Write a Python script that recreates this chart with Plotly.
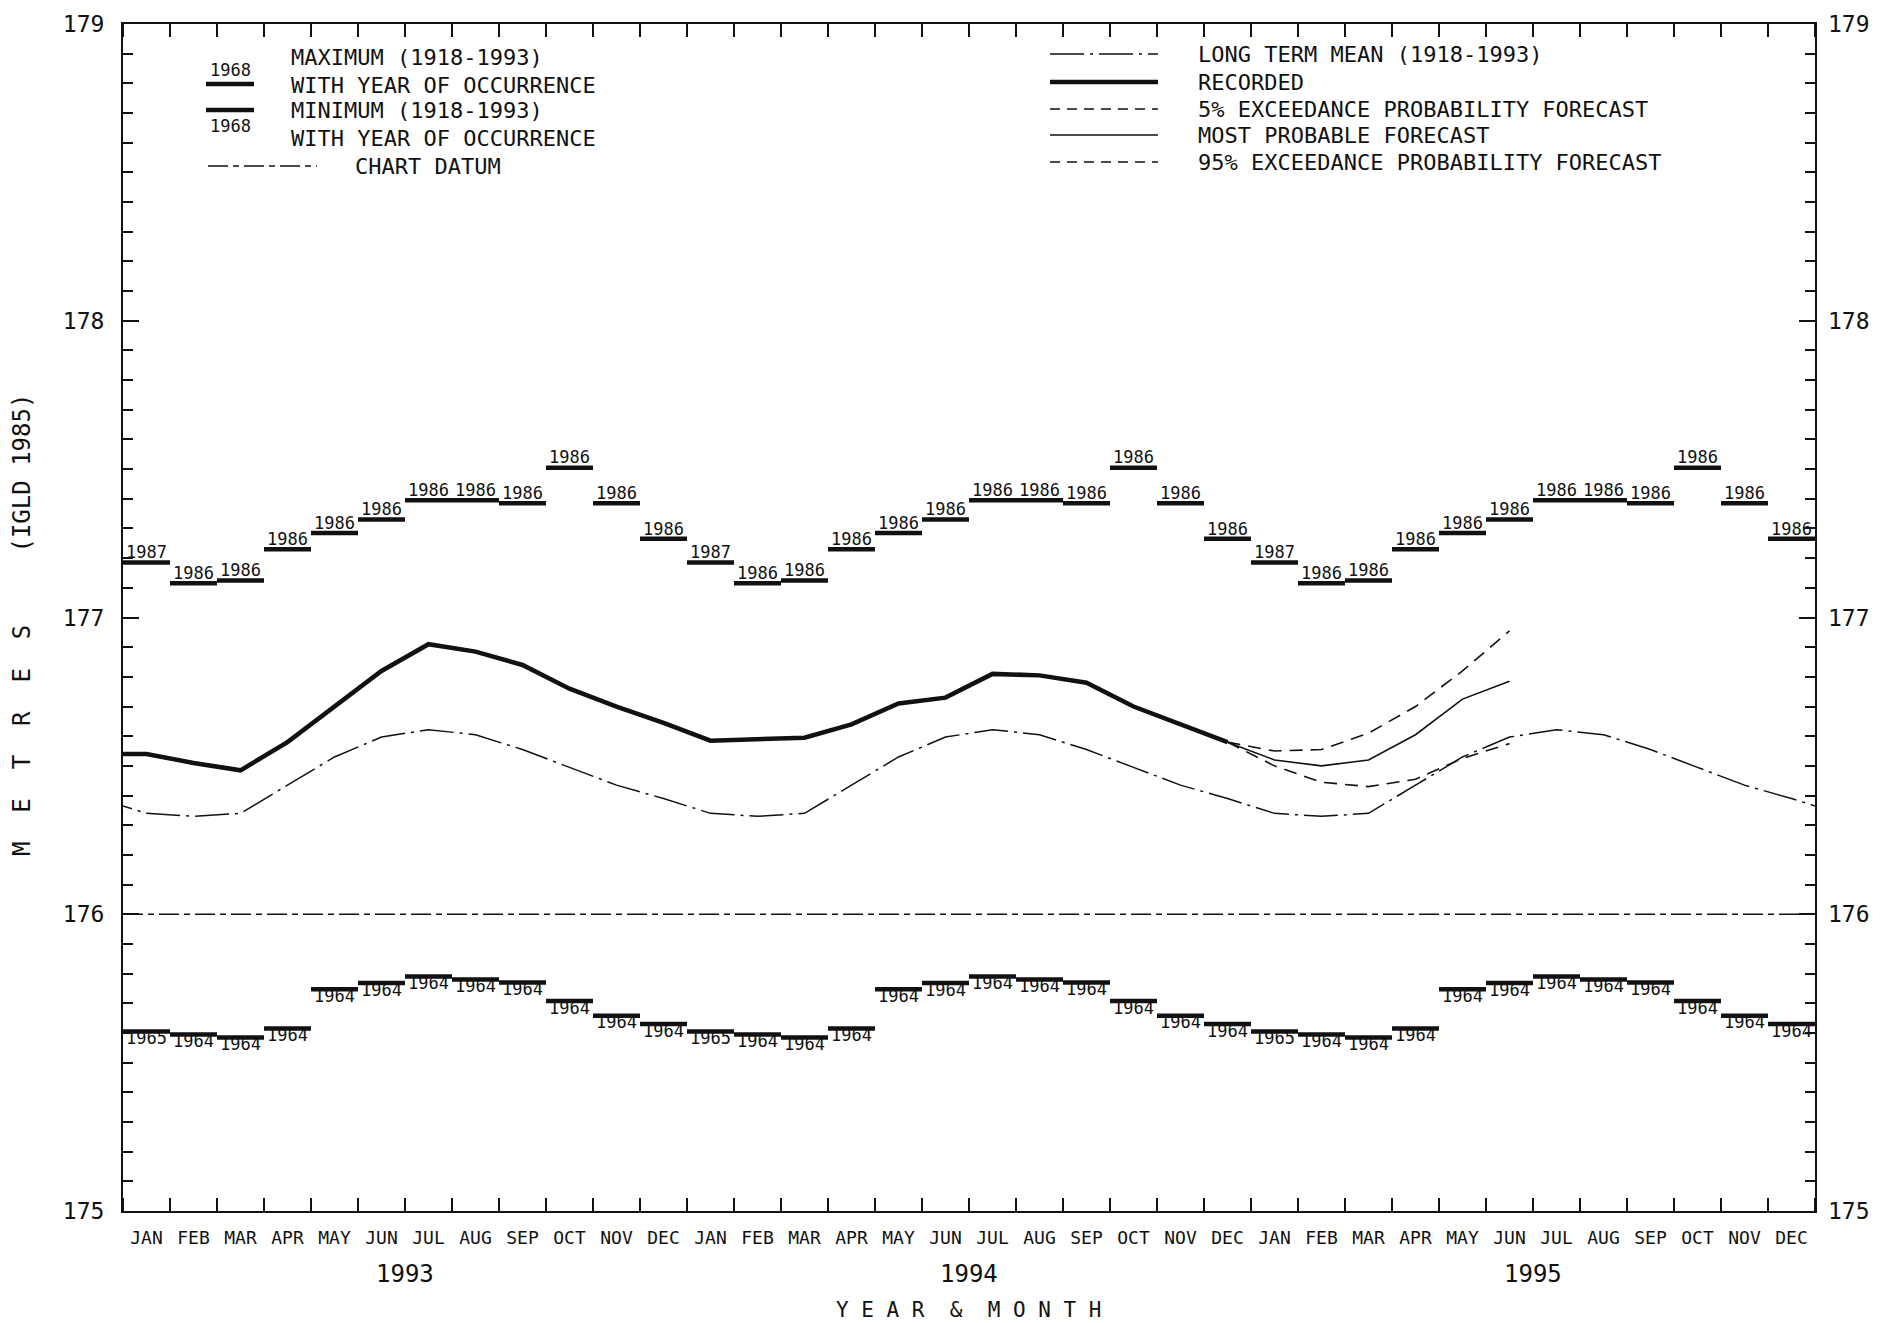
import plotly.graph_objects as go

# ---------------- data ----------------
months = ["JAN", "FEB", "MAR", "APR", "MAY", "JUN", "JUL", "AUG", "SEP", "OCT", "NOV", "DEC"]
years = ["1993", "1994", "1995"]

# Monthly maximum (1918-1993) and year of occurrence
max_level = [177.185, 177.115, 177.125, 177.23, 177.285, 177.33, 177.395, 177.395, 177.385, 177.505, 177.385, 177.265]
max_year = ["1987", "1986", "1986", "1986", "1986", "1986", "1986", "1986", "1986", "1986", "1986", "1986"]

# Monthly minimum (1918-1993) and year of occurrence
min_level = [175.605, 175.595, 175.585, 175.615, 175.747, 175.768, 175.79, 175.78, 175.77, 175.708, 175.658, 175.63]
min_year = ["1965", "1964", "1964", "1964", "1964", "1964", "1964", "1964", "1964", "1964", "1964", "1964"]

# Long term mean (1918-1993), Jan..Dec
long_term_mean = [176.34, 176.33, 176.34, 176.435, 176.53, 176.597, 176.622, 176.605, 176.555, 176.495, 176.435, 176.39]

# Recorded monthly means: Dec 1992, then Jan 1993 .. Dec 1994
recorded_dec_1992 = 176.54
recorded = [176.54, 176.51, 176.485, 176.58, 176.70, 176.82, 176.91, 176.885, 176.84, 176.76, 176.70, 176.645,
            176.585, 176.59, 176.595, 176.64, 176.71, 176.73, 176.81, 176.805, 176.78, 176.70, 176.64, 176.58]

# Forecasts: Dec 1994 .. Jun 1995
forecast_months = ["DEC 1994", "JAN 1995", "FEB 1995", "MAR 1995", "APR 1995", "MAY 1995", "JUN 1995"]
forecast_5pct = [176.58, 176.55, 176.555, 176.61, 176.70, 176.82, 176.955]
forecast_most_probable = [176.58, 176.52, 176.50, 176.52, 176.605, 176.725, 176.785]
forecast_95pct = [176.58, 176.50, 176.445, 176.43, 176.455, 176.525, 176.575]

chart_datum = 176.0
y_ticks = [175, 176, 177, 178, 179]

FONT = "DejaVu Sans Mono"
BLACK = "#111111"
NB = "\u00a0"

# ---------------- derived positions (month scale) ----------------
n_months = 12 * len(years)
centers = [i + 0.5 for i in range(n_months)]

fig = go.Figure()

DATUM_DASH = "20px,5px,6px,5px"
LTM_DASH = "34px,6px,3px,6px"
FC_DASH = "13px,8px"

# chart datum
fig.add_trace(go.Scatter(x=[0, n_months], y=[chart_datum, chart_datum], mode="lines",
                         line=dict(color=BLACK, width=1.4, dash=DATUM_DASH),
                         hoverinfo="skip", showlegend=False))

# long term mean (repeating climatology, padded one month each side)
ltm_x = [-0.5] + centers + [n_months + 0.5]
ltm_y = [long_term_mean[-1]] + long_term_mean * len(years) + [long_term_mean[0]]
fig.add_trace(go.Scatter(x=ltm_x, y=ltm_y, mode="lines",
                         line=dict(color=BLACK, width=1.5, dash=LTM_DASH),
                         hoverinfo="skip", showlegend=False))

# recorded
rec_x = [-0.5] + centers[:len(recorded)]
rec_y = [recorded_dec_1992] + recorded
fig.add_trace(go.Scatter(x=rec_x, y=rec_y, mode="lines",
                         line=dict(color=BLACK, width=4.5),
                         hoverinfo="skip", showlegend=False))

# forecasts
fc_x = centers[len(recorded) - 1: len(recorded) - 1 + len(forecast_months)]
fig.add_trace(go.Scatter(x=fc_x, y=forecast_5pct, mode="lines",
                         line=dict(color=BLACK, width=1.6, dash=FC_DASH),
                         hoverinfo="skip", showlegend=False))
fig.add_trace(go.Scatter(x=fc_x, y=forecast_most_probable, mode="lines",
                         line=dict(color=BLACK, width=1.6),
                         hoverinfo="skip", showlegend=False))
fig.add_trace(go.Scatter(x=fc_x, y=forecast_95pct, mode="lines",
                         line=dict(color=BLACK, width=1.6, dash=FC_DASH),
                         hoverinfo="skip", showlegend=False))

# max / min bars
def bars(levels):
    xs, ys = [], []
    for i in range(n_months):
        v = levels[i % 12]
        xs += [i, i + 1, None]
        ys += [v, v, None]
    return xs, ys

mx, my = bars(max_level)
fig.add_trace(go.Scatter(x=mx, y=my, mode="lines", line=dict(color=BLACK, width=4.5),
                         hoverinfo="skip", showlegend=False))
nx, ny = bars(min_level)
fig.add_trace(go.Scatter(x=nx, y=ny, mode="lines", line=dict(color=BLACK, width=4.5),
                         hoverinfo="skip", showlegend=False))

fig.add_trace(go.Scatter(x=centers, y=max_level * len(years), mode="text",
                         text=max_year * len(years), textposition="top center",
                         textfont=dict(family=FONT, size=17, color=BLACK),
                         hoverinfo="skip", showlegend=False, cliponaxis=False))
fig.add_trace(go.Scatter(x=centers, y=min_level * len(years), mode="text",
                         text=min_year * len(years), textposition="bottom center",
                         textfont=dict(family=FONT, size=17, color=BLACK),
                         hoverinfo="skip", showlegend=False, cliponaxis=False))

# invisible trace for right axis
fig.add_trace(go.Scatter(x=[0], y=[175], yaxis="y2", mode="markers", marker=dict(opacity=0),
                         hoverinfo="skip", showlegend=False))

# ---------------- layout ----------------
L, R, T, B = 123, 1815, 24, 1211
W, H = R - L, B - T
def px(X):
    return (X - L) / W
def py(Y):
    return (B - Y) / H

annotations = []
shapes = []

def text(X, Y, s, size=22, anchor="left"):
    annotations.append(dict(xref="paper", yref="paper", x=px(X), y=py(Y), text=s, showarrow=False,
                            xanchor=anchor, yanchor="middle",
                            font=dict(family=FONT, size=size, color=BLACK)))

def seg(X0, X1, Y, width, dash="solid"):
    shapes.append(dict(type="line", xref="paper", yref="paper", x0=px(X0), x1=px(X1), y0=py(Y), y1=py(Y),
                       line=dict(color=BLACK, width=width, dash=dash)))

# left legend
text(289, 57, "MAXIMUM (1918-1993)")
text(289, 85, "WITH YEAR OF OCCURRENCE")
text(289, 110, "MINIMUM (1918-1993)")
text(289, 138, "WITH YEAR OF OCCURRENCE")
text(353, 166, "CHART DATUM")
text(230, 70, "1968", size=17, anchor="center")
seg(206, 254, 84, 4.5)
seg(206, 254, 110, 4.5)
text(230, 126, "1968", size=17, anchor="center")
seg(208, 317, 166, 1.4, DATUM_DASH)

# right legend
text(1196, 54, "LONG TERM MEAN (1918-1993)")
text(1196, 82, "RECORDED")
text(1196, 109, "5% EXCEEDANCE PROBABILITY FORECAST")
text(1196, 135, "MOST PROBABLE FORECAST")
text(1196, 162, "95% EXCEEDANCE PROBABILITY FORECAST")
seg(1050, 1158, 54, 1.5, LTM_DASH)
seg(1050, 1158, 82, 4.5)
seg(1050, 1158, 109, 1.6, "10px,7px")
seg(1050, 1158, 135, 1.6)
seg(1050, 1158, 162, 1.6, "10px,7px")

# year labels
for k, yr in enumerate(years):
    annotations.append(dict(xref="x", yref="paper", x=12 * k + 6, y=py(1274), text=yr, showarrow=False,
                            xanchor="center", yanchor="middle",
                            font=dict(family=FONT, size=24, color=BLACK)))

# axis titles
x_title = NB.join("YEAR") + NB * 2 + "&" + NB * 2 + NB.join("MONTH")
annotations.append(dict(xref="x", yref="paper", x=n_months / 2, y=py(1310),
                        text=x_title, showarrow=False, xanchor="center", yanchor="middle",
                        font=dict(family=FONT, size=21, color=BLACK)))
y_title = (NB * 2).join("METRES") + NB * 5 + "(IGLD" + NB + "1985)"
annotations.append(dict(xref="paper", yref="paper", x=px(22), y=py(625),
                        text=y_title, textangle=-90, showarrow=False, xanchor="center", yanchor="middle",
                        font=dict(family=FONT, size=24, color=BLACK)))

ytext = [str(v) for v in y_ticks]

fig.update_layout(
    width=1896, height=1323,
    margin=dict(l=L, r=1896 - R, t=T, b=1323 - B),
    paper_bgcolor="white", plot_bgcolor="white",
    showlegend=False,
    annotations=annotations, shapes=shapes,
    xaxis=dict(range=[0, n_months], tickmode="array", tickvals=centers, ticktext=months * len(years),
               ticks="", showgrid=False, zeroline=False, showline=True, linecolor=BLACK, linewidth=2,
               mirror="ticks", ticklabelstandoff=9,
               tickfont=dict(family=FONT, size=18, color=BLACK),
               minor=dict(tick0=0, dtick=1, ticks="inside", ticklen=13, tickwidth=1.5, tickcolor=BLACK,
                          showgrid=False)),
    yaxis=dict(range=[175, 179], tickmode="array", tickvals=y_ticks, ticktext=ytext,
               ticks="inside", ticklen=16, tickwidth=1.5, tickcolor=BLACK,
               showgrid=False, zeroline=False, showline=True, linecolor=BLACK, linewidth=2, mirror=True,
               ticklabelstandoff=12, tickfont=dict(family=FONT, size=23, color=BLACK),
               minor=dict(dtick=0.1, ticks="inside", ticklen=10, tickwidth=1.5, tickcolor=BLACK, showgrid=False)),
    yaxis2=dict(range=[175, 179], overlaying="y", side="right", matches="y", tickmode="array",
                tickvals=y_ticks, ticktext=ytext, ticks="inside", ticklen=16, tickwidth=1.5, tickcolor=BLACK,
                showgrid=False, zeroline=False, showline=False,
                ticklabelstandoff=12, tickfont=dict(family=FONT, size=23, color=BLACK),
                minor=dict(dtick=0.1, ticks="inside", ticklen=10, tickwidth=1.5, tickcolor=BLACK, showgrid=False)),
)

fig.write_html("out.html")
